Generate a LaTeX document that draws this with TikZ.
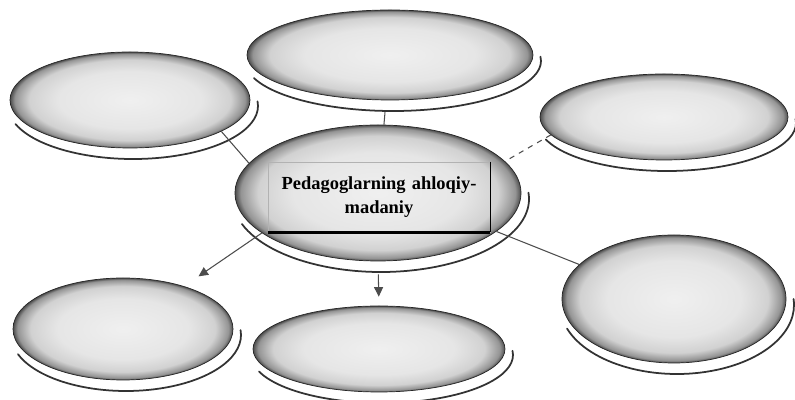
\documentclass[tikz,border=0pt]{standalone}
\usepackage{fontspec}
\setmainfont{Liberation Serif}
\usepackage{tikz}
\usetikzlibrary{arrows.meta,shapes.geometric}

\pgfdeclareradialshading{grain}{\pgfpoint{0bp}{0bp}}{color(0bp)=(black!6);
  color(15bp)=(black!10); color(21bp)=(black!18); color(24bp)=(black!42);
  color(25bp)=(black!70); color(50bp)=(black!70)}

\begin{document}
\begin{tikzpicture}[
  blob/.style={ellipse,draw=black!85,thin,shading=grain,inner sep=0pt},
  rim/.style={black!80,line width=1pt,line cap=round},
  link/.style={black!70,semithick},
  pointer/.style={link,-{Triangle[length=1.9mm,width=1.8mm]}},
  heading/.style={draw=black!30,thin,align=center,text width=4.2cm,
    minimum width=4.44cm,minimum height=1.4cm,inner sep=2pt,
    font=\fontsize{10.5}{14}\selectfont\bfseries}
]
% Fixed bounds keep the page at the reference proportions.
\useasboundingbox (0,0) rectangle (15.9,8);

\node[blob,minimum width=4.8cm,minimum height=1.92cm] (top-left) at (2.6,6.0) {};
\node[blob,minimum width=5.72cm,minimum height=1.8cm] (top-mid) at (7.8,6.9) {};
\node[blob,minimum width=4.96cm,minimum height=1.72cm] (top-right) at (13.28,5.66) {};
\node[blob,minimum width=5.72cm,minimum height=2.72cm] (core) at (7.56,4.14) {};
\node[blob,minimum width=4.48cm,minimum height=2.56cm] (low-right) at (13.48,2.02) {};
\node[blob,minimum width=4.4cm,minimum height=2.04cm] (low-left) at (2.46,1.42) {};
\node[blob,minimum width=5.04cm,minimum height=1.72cm] (low-mid) at (7.58,1.02) {};

\foreach \n/\rx/\ry in {top-left/2.5/1.06,top-mid/2.96/1.0,top-right/2.58/.96,
    core/2.96/1.46,low-right/2.34/1.38,low-left/2.3/1.12,low-mid/2.62/.96}
  \draw[rim] ([shift={(.06,-.12)}]\n.center) ++(200:\rx cm and \ry cm)
    arc[start angle=200,end angle=365,x radius=\rx cm,y radius=\ry cm];

\node[heading] (title) at (7.58,4.06) {Pedagoglarning ahloqiy-\\madaniy};
\draw[line width=1.6pt] (title.south west) -- (title.south east);
\draw[semithick] (title.north east) -- (title.south east);

\draw[link] (top-left.-19) -- (core.167);
\draw[link,shorten <=2.4mm] (top-mid) -- (core);
\draw[link,dashed] (top-right.189) -- (core.14);
\draw[link] (core.-18) -- (low-right.160);
\draw[pointer,shorten >=3.5mm] (core.199) -- (low-left.35);
\draw[pointer,shorten <=2.6mm,shorten >=1.8mm] (core.south) -- (low-mid.north);
\end{tikzpicture}
\end{document}
